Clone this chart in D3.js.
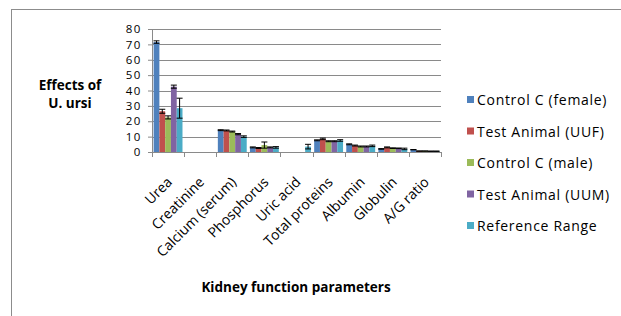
<!DOCTYPE html>
<html>
<head>
<meta charset="utf-8">
<script src="https://cdn.jsdelivr.net/npm/d3@7"></script>
<style>
  body { margin: 0; background: #fff; }
  text { font-family: "Open Sans", "Liberation Sans", sans-serif; fill: #000; }
</style>
</head>
<body>
<svg id="chart"></svg>
<script>
// Data
var categories = ['Urea', 'Creatinine', 'Calcium (serum)', 'Phosphorus', 'Uric acid',
    'Total proteins', 'Albumin', 'Globulin', 'A/G ratio'];
var seriesNames = ['Control C (female)', 'Test Animal (UUF)', 'Control C (male)',
    'Test Animal (UUM)', 'Reference Range'];
var controlFemale = [71.5, 0, 14.2, 3.0, 0, 7.6, 5.0, 2.0, 1.5];
var testUUF = [26.5, 0, 14.0, 2.6, 0, 8.5, 4.2, 3.0, 0.6];
var controlMale = [22.5, 0, 13.3, 4.5, 0, 7.0, 3.6, 2.5, 0.6];
var testUUM = [42.5, 0, 11.6, 3.0, 0, 7.0, 3.6, 2.4, 0.5];
var referenceRange = [28.5, 0, 10.0, 3.0, 3.5, 7.5, 4.0, 2.0, 0.5];
var errFemale = [0.8, 0, 0.3, 0.3, 0, 0.3, 0.3, 0.2, 0.1];
var errUUF = [1.3, 0, 0.3, 0.3, 0, 0.5, 0.3, 0.3, 0.1];
var errMale = [1.0, 0, 0.3, 2.0, 0, 0.3, 0.3, 0.2, 0.1];
var errUUM = [1.0, 0, 0.4, 0.3, 0, 0.3, 0.3, 0.2, 0.1];
var errRef = [6.5, 0, 0.5, 0.5, 1.5, 0.5, 0.5, 0.5, 0.1];
var yTicks = [0, 10, 20, 30, 40, 50, 60, 70, 80];
var colors = ['#4F81BD', '#C0504D', '#9BBB59', '#8064A2', '#4BACC6'];

var allValues = [controlFemale, testUUF, controlMale, testUUM, referenceRange];
var allErrors = [errFemale, errUUF, errMale, errUUM, errRef];

var svgWidth = 621;
var svgHeight = 316;

var svg = d3.select('#chart')
    .attr('width', svgWidth)
    .attr('height', svgHeight);

// Outer frame
svg.append('rect')
    .attr('x', 11.5)
    .attr('y', 9.5)
    .attr('width', 640)
    .attr('height', 340)
    .attr('fill', 'none')
    .attr('stroke', '#8c8c8c');

var margin = { top: 29, left: 152 };
var chartWidth = 289;
var chartHeight = 123;

var chartGroup = svg.append('g')
    .attr('transform', `translate(${margin.left}, ${margin.top})`);

var xScale = d3.scaleBand()
    .domain(categories)
    .range([0, chartWidth]);

var xInner = d3.scaleBand()
    .domain(d3.range(seriesNames.length))
    .range([0, xScale.bandwidth()])
    .paddingOuter(0.28)
    .paddingInner(0);

var yScale = d3.scaleLinear()
    .domain([0, 80])
    .range([chartHeight, 0]);

// Gridlines
chartGroup.append('g')
    .selectAll('line')
    .data(yTicks)
    .enter()
    .append('line')
    .attr('x1', 0)
    .attr('x2', chartWidth)
    .attr('y1', (d) => Math.round(yScale(d)) + 0.5)
    .attr('y2', (d) => Math.round(yScale(d)) + 0.5)
    .attr('stroke', '#8a8a8a')
    .attr('stroke-width', 1);

// Bars
allValues.forEach((vals, s) => {
    chartGroup.append('g')
        .selectAll('rect')
        .data(vals)
        .enter()
        .append('rect')
        .attr('x', (d, i) => xScale(categories[i]) + xInner(s))
        .attr('y', (d) => yScale(d))
        .attr('width', xInner.bandwidth())
        .attr('height', (d) => chartHeight - yScale(d))
        .attr('fill', colors[s]);
});

// Error bars
allValues.forEach((vals, s) => {
    var errs = allErrors[s];
    var g = chartGroup.append('g')
        .attr('stroke', '#000')
        .attr('stroke-width', 1);
    vals.forEach((v, i) => {
        if (v === 0 && errs[i] === 0) return;
        var cx = xScale(categories[i]) + xInner(s) + xInner.bandwidth() / 2;
        var top = yScale(v + errs[i]);
        var bot = yScale(Math.max(0, v - errs[i]));
        g.append('line').attr('x1', cx).attr('x2', cx).attr('y1', top).attr('y2', bot);
        g.append('line').attr('x1', cx - 3).attr('x2', cx + 3).attr('y1', top).attr('y2', top);
        g.append('line').attr('x1', cx - 3).attr('x2', cx + 3).attr('y1', bot).attr('y2', bot);
    });
});

// Axes
var leftAxis = d3.axisLeft(yScale)
    .tickValues(yTicks)
    .tickSize(4)
    .tickPadding(6);

var yAxis = chartGroup.append('g')
    .call(leftAxis);
yAxis.select('.domain').attr('stroke', '#8a8a8a');
yAxis.selectAll('.tick line').attr('stroke', '#8a8a8a');
yAxis.selectAll('text')
    .style('font-size', '11.5px')
    .style('letter-spacing', '1.6px')
    .attr('fill', '#000');

var xAxis = chartGroup.append('g')
    .attr('transform', `translate(0, ${chartHeight})`);
xAxis.append('line')
    .attr('x1', 0).attr('x2', chartWidth)
    .attr('y1', 0.5).attr('y2', 0.5)
    .attr('stroke', '#8a8a8a');
xAxis.selectAll('.xtick')
    .data(d3.range(categories.length + 1))
    .enter()
    .append('line')
    .attr('x1', (d) => Math.round(d * xScale.step()) + 0.5)
    .attr('x2', (d) => Math.round(d * xScale.step()) + 0.5)
    .attr('y1', 0)
    .attr('y2', 5)
    .attr('stroke', '#8a8a8a');
xAxis.selectAll('.xlabel')
    .data(categories)
    .enter()
    .append('text')
    .attr('transform', (d) => `translate(${xScale(d) + xScale.bandwidth() / 2 + 5}, 31) rotate(-45)`)
    .attr('text-anchor', 'end')
    .style('font-size', '14px')
    .text((d) => d);

// Axis titles
var yTitle = svg.append('text')
    .attr('x', 70)
    .attr('text-anchor', 'middle')
    .style('font-size', '13.5px')
    .style('font-weight', 'bold');
yTitle.append('tspan').attr('x', 70).attr('y', 90).text('Effects of');
yTitle.append('tspan').attr('x', 70).attr('y', 108).text('U. ursi');

svg.append('text')
    .attr('x', 296)
    .attr('y', 292)
    .attr('text-anchor', 'middle')
    .style('font-size', '13.5px')
    .style('font-weight', 'bold')
    .text('Kidney function parameters');

// Legend
var legend = svg.append('g')
    .attr('transform', 'translate(467, 100)');
var items = legend.selectAll('g')
    .data(seriesNames)
    .enter()
    .append('g')
    .attr('transform', (d, i) => `translate(0, ${i * 31.5})`);
items.append('rect')
    .attr('x', 0)
    .attr('y', -4)
    .attr('width', 7)
    .attr('height', 7)
    .attr('fill', (d, i) => colors[i]);
items.append('text')
    .attr('x', 10)
    .attr('y', 5)
    .style('font-size', '14px')
    .style('letter-spacing', '0.7px')
    .text((d) => d);
</script>
</body>
</html>
